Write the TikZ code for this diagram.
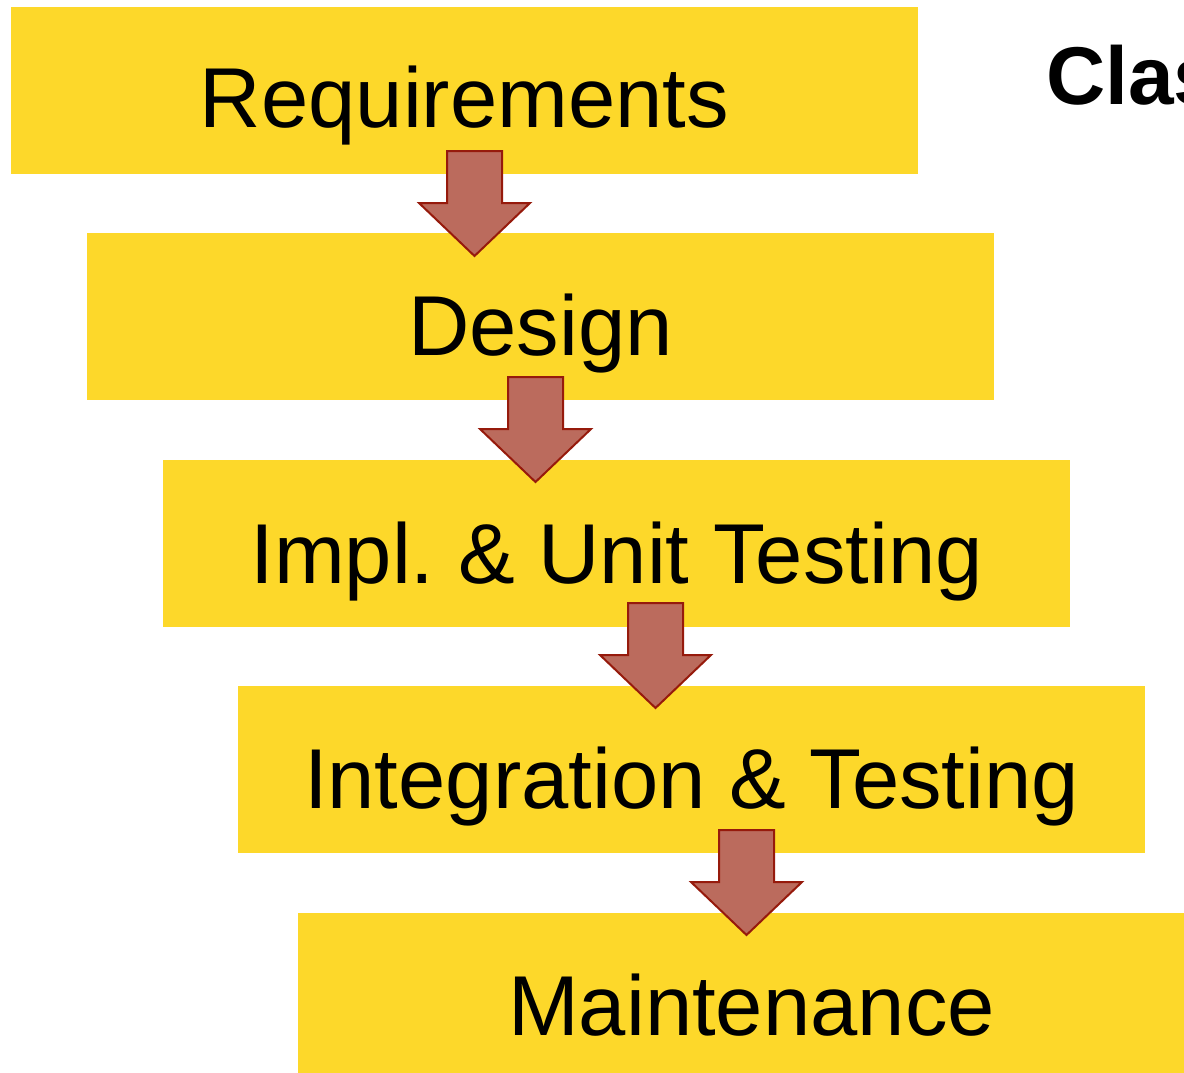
\documentclass[tikz,border=0pt]{standalone}
\usepackage{fontspec}
\setmainfont{Liberation Sans}
\frenchspacing
\begin{document}
\begin{tikzpicture}[x=1pt,y=-1pt,
  stage/.style={fill=stageyellow, draw=none, minimum width=907pt, minimum height=167pt, inner sep=0pt},
  lbl/.style={anchor=base, font=\fontsize{85}{95}\selectfont, inner sep=0pt},
  flowarrow/.style={fill=arrowfill, draw=arrowline, line width=2pt, line join=miter}]
\definecolor{stageyellow}{HTML}{FDD82A}
\definecolor{arrowfill}{HTML}{BB6B5D}
\definecolor{arrowline}{HTML}{961A0C}
% canvas
\clip (0,0) rectangle (1184,1073);
\fill[white] (0,0) rectangle (1184,1073);

% phases of the process
\node[stage] (req)   at (464.5,90.5)  {};
\node[stage] (des)   at (540.5,316.5) {};
\node[stage] (impl)  at (616.5,543.5) {};
\node[stage] (integ) at (691.5,769.5) {};
\node[stage] (maint) at (751.5,996.5) {};

\node[lbl] (reqt)   at ([yshift=-37.5pt]req.center)   {Requirements};
\node[lbl] (dest)   at ([yshift=-38.5pt]des.center)   {Design};
\node[lbl] (implt)  at ([yshift=-39.5pt]impl.center)  {Impl. \& Unit Testing};
\node[lbl] (integt) at ([yshift=-38.5pt]integ.center) {Integration \& Testing};
\node[lbl] (maintt) at ([yshift=-38.5pt]maint.center) {Maintenance};

% title
\node[anchor=base west, inner sep=0pt, font=\fontsize{82}{92}\selectfont\bfseries] (title) at (1046,105) {Class};

% block arrows between phases: shaft top at (cx,top)
\newcommand\blockarrow[2]{%
  \draw[flowarrow] (#1-27.5,#2) -- (#1+27.5,#2) -- (#1+27.5,#2+52) -- (#1+55.5,#2+52)
    -- (#1,#2+105) -- (#1-55.5,#2+52) -- (#1-27.5,#2+52) -- cycle;}
\blockarrow{474.5}{151}
\blockarrow{535.5}{377}
\blockarrow{655.5}{603}
\blockarrow{746.5}{830}
\end{tikzpicture}
\end{document}
